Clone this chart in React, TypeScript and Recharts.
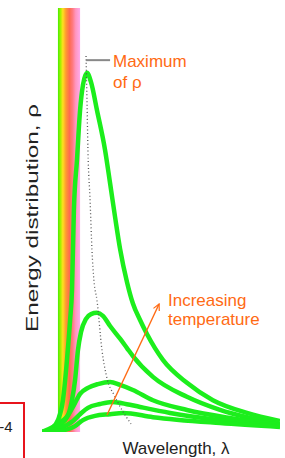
import { ComposedChart, Line, XAxis, YAxis, ReferenceArea, ReferenceLine } from "recharts";

type Pt = [number, number];

// Blackbody curves, wavelength vs energy density (arbitrary units, 0-100), hottest first
const hottest: Pt[] = [
  [0, 0], [4.2, 0.9], [6.7, 2.8], [8.8, 7.5], [10.5, 17.0], [11.8, 26.4], [12.6, 33.5],
  [13.4, 52.4], [14.7, 64.2], [16.0, 75.9], [17.2, 81.8], [18.9, 84.7], [20.6, 82.5],
  [23.1, 75.9], [26.5, 66.5], [28.6, 58.7], [30.7, 50.7], [32.8, 43.2], [35.7, 35.4],
  [38.2, 30.3], [41.2, 26.4], [44.1, 23.1], [50.8, 17.0], [60.9, 11.6], [71.8, 7.5], [86.1, 4.5], [100, 2.6],
];
const hot: Pt[] = [
  [0, 0], [4.6, 1.2], [8.4, 2.6], [10.9, 4.0], [12.6, 7.5], [13.9, 12.3], [15.1, 19.3],
  [16.4, 23.6], [18.5, 26.7], [20.6, 27.8], [23.1, 28.1], [25.6, 27.4], [28.6, 25.0],
  [32.8, 22.0], [35.7, 19.8], [38.2, 17.9], [46.6, 13.0], [60.9, 8.3], [74.8, 5.2], [100, 1.9],
];
const warm: Pt[] = [
  [0, 0], [5.5, 0.9], [9.7, 2.8], [13.0, 5.9], [16.0, 9.0], [19.3, 10.4], [23.5, 11.3],
  [28.6, 11.8], [32.8, 11.1], [38.2, 9.9], [46.6, 7.5], [60.9, 5.2], [79.0, 3.3], [100, 1.7],
];
const cool: Pt[] = [
  [0, 0], [7.6, 0.9], [12.6, 2.4], [16.0, 4.2], [19.3, 5.7], [24.4, 6.6], [29.4, 7.1],
  [33.6, 6.8], [41.2, 5.9], [53.8, 4.5], [74.8, 2.8], [100, 1.4],
];
const coolest: Pt[] = [
  [0, 0], [9.7, 0.5], [13.9, 1.4], [17.2, 2.8], [22.3, 3.8], [28.6, 4.2], [34.0, 4.5],
  [46.6, 3.5], [74.8, 2.1], [100, 1.2],
];
const curves = [hottest, hot, warm, cool, coolest];

// Wien's law: locus of the maxima
const peakLocus: Pt[] = [
  [18.5, 88.7], [18.9, 78.3], [19.3, 66.5], [20.2, 54.7], [21.0, 42.9], [21.8, 35.8],
  [23.1, 31.1], [25.2, 19.3], [27.3, 12.7], [30.3, 8.7], [33.6, 5.2], [37.4, 1.9],
];
const tempArrow: Pt[] = [[27.3, 4.0], [49.2, 30.2]];
const visibleBand: [number, number] = [6.7, 16.0];
const maxLeader = { x1: 18.5, x2: 28.6, y: 87.7 };

const toRows = (pts: Pt[]) => pts.map(([x, y]) => ({ x, y }));

const GREEN = "#1cee1c";
const ORANGE = "#ff6a13";
const FONT = "'Liberation Sans', Arial, sans-serif";

export default function App() {
  return (
    <div style={{ position: "absolute", left: 0, top: 0, width: 285, height: 458, background: "#fff" }}>
      <ComposedChart width={285} height={458} margin={{ top: 8, right: 5, bottom: 26, left: 42 }}>
        <defs>
          <linearGradient id="spectrum" x1="0" y1="0" x2="1" y2="0">
            <stop offset="0" stopColor="#44ee00" />
            <stop offset="0.12" stopColor="#aaf000" />
            <stop offset="0.22" stopColor="#ffe020" />
            <stop offset="0.36" stopColor="#ff9a30" />
            <stop offset="0.52" stopColor="#ff6a50" />
            <stop offset="0.66" stopColor="#ff7a80" />
            <stop offset="0.8" stopColor="#ff96c0" />
            <stop offset="1" stopColor="#ffaaec" />
          </linearGradient>
          <marker id="arrowHead" viewBox="0 0 10 10" refX="9" refY="5" markerWidth="8" markerHeight="8"
            markerUnits="userSpaceOnUse" orient="auto">
            <path d="M1,1 L9,5 L1,9" fill="none" stroke={ORANGE} strokeWidth={1.5} />
          </marker>
        </defs>
        <XAxis type="number" dataKey="x" domain={[0, 100]} height={0} tick={false} tickLine={false}
          axisLine={{ stroke: "#858585", strokeWidth: 2 }} allowDataOverflow />
        <YAxis type="number" dataKey="y" domain={[0, 100]} width={0} tick={false} tickLine={false}
          axisLine={{ stroke: "#858585", strokeWidth: 2 }} allowDataOverflow />
        <ReferenceArea x1={visibleBand[0]} x2={visibleBand[1]} y1={0} y2={100}
          fill="url(#spectrum)" fillOpacity={1} stroke="none" />
        {curves.map((c, i) => (
          <Line key={i} data={toRows(c)} dataKey="y" type="monotone" stroke={GREEN}
            strokeWidth={4.5} dot={false} activeDot={false} isAnimationActive={false} />
        ))}
        <Line data={toRows(peakLocus)} dataKey="y" type="monotone" stroke="#555"
          strokeWidth={1.3} strokeDasharray="1 2.5" dot={false} activeDot={false} isAnimationActive={false} />
        <ReferenceLine segment={[{ x: maxLeader.x1, y: maxLeader.y }, { x: maxLeader.x2, y: maxLeader.y }]}
          stroke="#888" strokeWidth={2} />
        <Line data={toRows(tempArrow)} dataKey="y" type="linear" stroke={ORANGE} strokeWidth={1.4}
          markerEnd="url(#arrowHead)" dot={false} activeDot={false} isAnimationActive={false} />
        <text x={113} y={67} fill={ORANGE} fontFamily={FONT} fontSize={17}>Maximum</text>
        <text x={113} y={88} fill={ORANGE} fontFamily={FONT} fontSize={17}>of ρ</text>
        <text x={168} y={306} fill={ORANGE} fontFamily={FONT} fontSize={17}>Increasing</text>
        <text x={168} y={325} fill={ORANGE} fontFamily={FONT} fontSize={17}>temperature</text>
        <text x={176} y={454} textAnchor="middle" fill="#222" fontFamily={FONT} fontSize={17}>Wavelength, λ</text>
        <text transform="translate(37.5,218) rotate(-90)" textAnchor="middle" fill="#222"
          fontFamily={FONT} fontSize={17} textLength={228} lengthAdjust="spacingAndGlyphs">
          Energy distribution, ρ
        </text>
        <text x={12.5} y={432} textAnchor="end" fill="#222" fontFamily={FONT} fontSize={15}>-4</text>
        <path d="M0,403 H24 V458" fill="none" stroke="#e8141c" strokeWidth={2} />
      </ComposedChart>
    </div>
  );
}
